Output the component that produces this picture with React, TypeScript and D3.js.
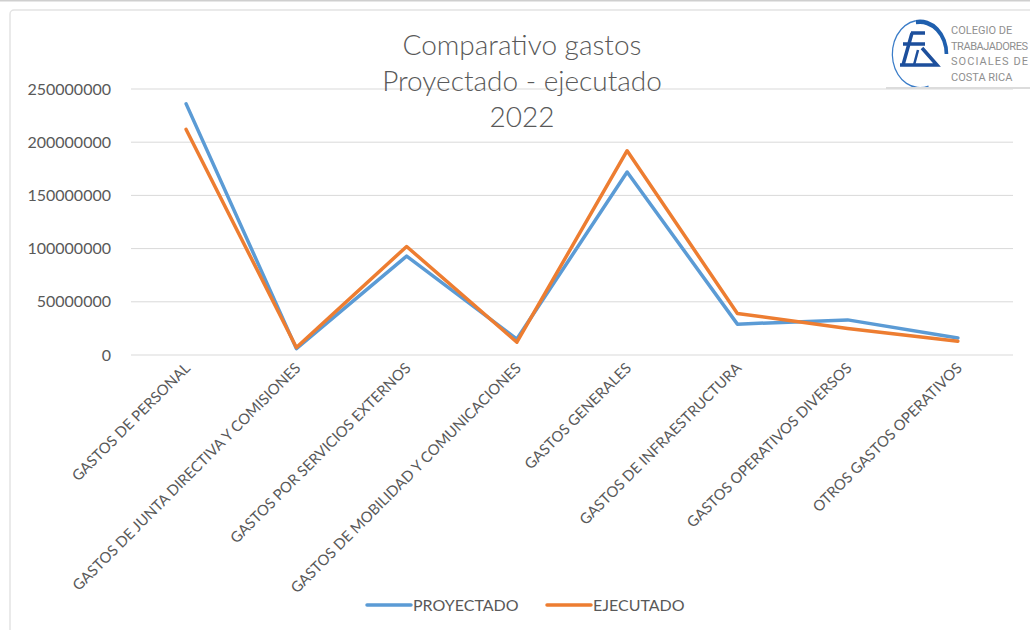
import React from 'react';
import * as d3 from 'd3';

const categories = [
  'GASTOS DE PERSONAL',
  'GASTOS DE JUNTA DIRECTIVA Y COMISIONES',
  'GASTOS POR SERVICIOS EXTERNOS',
  'GASTOS DE MOBILIDAD Y COMUNICACIONES',
  'GASTOS GENERALES',
  'GASTOS DE INFRAESTRUCTURA',
  'GASTOS OPERATIVOS DIVERSOS',
  'OTROS GASTOS OPERATIVOS',
];
const proyectado = [236000000, 6000000, 93000000, 15000000, 172000000, 29000000, 33000000, 16000000];
const ejecutado = [212000000, 7000000, 102000000, 12000000, 192000000, 39000000, 25000000, 13000000];
const yTicks = [0, 50000000, 100000000, 150000000, 200000000, 250000000];
const titleLines = ['Comparativo gastos', 'Proyectado - ejecutado', '2022'];
const logoLines = ['COLEGIO DE', 'TRABAJADORES', 'SOCIALES DE', 'COSTA RICA'];

const W = 1030;
const H = 630;
const BLUE = '#5b9bd5';
const ORANGE = '#ed7d31';
const TEXT = '#595959';
const FONT = 'Lato, "Open Sans", sans-serif';

const App: React.FC = () => {
  const x = d3.scalePoint<string>().domain(categories).range([131, 1013]).padding(0.5);
  const y = d3.scaleLinear().domain([0, 250000000]).range([355, 89]);

  const line = d3.line<number>()
    .x((_, i) => x(categories[i]) || 0)
    .y(d => y(d));

  const series = [
    { name: 'PROYECTADO', values: proyectado, color: BLUE },
    { name: 'EJECUTADO', values: ejecutado, color: ORANGE },
  ];

  const arc = d3.arc();

  return (
    <svg width={W} height={H} style={{ position: 'absolute', left: 0, top: 0, background: '#fff' }}>
      {/* frame */}
      <line x1={0} x2={W} y1={0.5} y2={0.5} stroke="#cfcfcf" strokeWidth={2} />
      <rect x={10} y={10} width={W + 20} height={H + 20} rx={4} fill="none" stroke="#e3e3e3" strokeWidth={1.5} />

      {/* gridlines */}
      {yTicks.map(t => (
        <line key={t} x1={131} x2={1013} y1={y(t)} y2={y(t)} stroke="#d9d9d9" strokeWidth={1} />
      ))}

      {/* y labels */}
      {yTicks.map(t => (
        <text key={t} x={111} y={y(t)} dy="0.35em" textAnchor="end" fontFamily={FONT}
          fontSize={16} fill={TEXT}>{t}</text>
      ))}

      {/* x labels */}
      {categories.map(c => (
        <text key={c} transform={`translate(${(x(c) || 0) + 5},${369}) rotate(-45)`} textAnchor="end"
          fontFamily={FONT} fontSize={14.8} fill={TEXT}>{c}</text>
      ))}

      {/* lines */}
      {series.map(s => (
        <path key={s.name} d={line(s.values) || ''} fill="none" stroke={s.color} strokeWidth={3.5}
          strokeLinejoin="round" strokeLinecap="round" />
      ))}

      {/* title */}
      {titleLines.map((t, i) => (
        <text key={t} x={522} y={55 + i * 36} textAnchor="middle" fontFamily={FONT} fontWeight={300}
          fontSize={28} fill={TEXT}>{t}</text>
      ))}

      {/* legend */}
      {series.map((s, i) => {
        const lx = 367 + i * 180;
        return (
          <g key={s.name}>
            <line x1={lx} x2={lx + 44} y1={605} y2={605} stroke={s.color} strokeWidth={3.5} strokeLinecap="round" />
            <text x={lx + 46} y={605} dy="0.35em" fontFamily={FONT} fontSize={16} fill={TEXT}>{s.name}</text>
          </g>
        );
      })}

      {/* logo */}
      <g>
        <g transform="translate(920,54) scale(0.82,1)">
          <path d={arc({ innerRadius: 33, outerRadius: 34.5, startAngle: Math.PI * 0.9, endAngle: Math.PI * 1.95 }) || ''}
            fill="#3a7cc8" />
          <path d={arc({ innerRadius: 30, outerRadius: 34.5, startAngle: -Math.PI * 0.05, endAngle: Math.PI * 0.5 }) || ''}
            fill="#1f5fae" />
        </g>
        <path d="M911,33 L925,33 M903,44 L925,44 M912,33 L903,65 M900,65 L937,65 L922,48"
          fill="none" stroke="#1d4f9c" strokeWidth={3.5} strokeLinejoin="miter" />
        <path d="M918,50 L914,65" stroke="#1d4f9c" strokeWidth={2.5} />
        {logoLines.map((t, i) => (
          <text key={t} x={951} y={34 + i * 15.5} fontFamily='"Liberation Sans Narrow", "Roboto", sans-serif'
            fontSize={11} fill="#8f8f8f" textLength={t.length > 10 ? 77 : undefined}>{t}</text>
        ))}
        <line x1={886} x2={W} y1={88} y2={88} stroke="#dcdcdc" strokeWidth={2} />
      </g>
    </svg>
  );
};

export default App;
